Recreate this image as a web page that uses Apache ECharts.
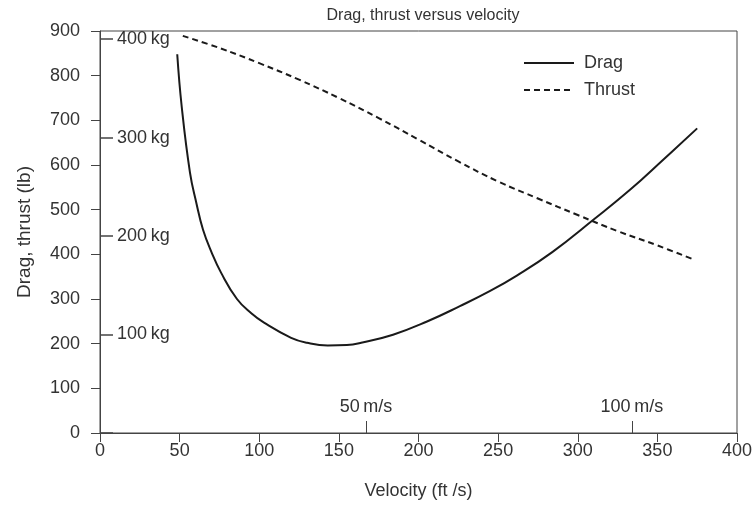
<!DOCTYPE html>
<html><head><meta charset="utf-8">
<script src="https://cdn.jsdelivr.net/npm/echarts@6/dist/echarts.min.js"></script>
<style>html,body{margin:0;padding:0;background:#fff}#c{width:756px;height:506px}</style>
</head><body><div id="c"></div>
<script>
// Drag (lb) versus velocity (ft/s)
const dragVelocity = [48.5,51.3,56.5,60.5,64.7,70,76,86,95,103,120,130,143,155,164,184,205,226,245,262,284,310,333,354,375];
const dragValues   = [848,731,583,515,455,405,359,300,268,247,213,202,196,197,202,220,249,284,318,353,405,478,545,613,682];
// Thrust (lb) versus velocity (ft/s)
const thrustVelocity = [52,75,100,125,150,175,200,225,250,275,300,325,350,373];
const thrustValues   = [889,862,828,791,750,705,657,608,563,525,488,452,420,388];
// Secondary scales
const kgTicks = [0,100,200,300,400];
const msTicks = [50,100];
const LB_PER_KG = 2.2046;
const FTS_PER_MS = 3.34;

const font = 'Liberation Sans';
const ink = '#333';
const chart = echarts.init(document.getElementById('c'), null, {renderer:'canvas'});
chart.setOption({
  backgroundColor:'#fff',
  animation:false,
  textStyle:{fontFamily:font},
  title:{text:'Drag, thrust versus velocity', left:418, top:3, textAlign:'center',
    textStyle:{fontSize:16, fontWeight:'normal', color:ink, fontFamily:font}},
  legend:{orient:'vertical', left:518, top:49, itemWidth:50, itemHeight:14, itemGap:9,
    itemStyle:{opacity:0},
    textStyle:{fontSize:18, color:ink, fontFamily:font, padding:[0,0,0,5]},
    data:['Drag','Thrust']},
  grid:{left:100, right:19, top:31, bottom:73, show:true, borderColor:'#444', borderWidth:1, containLabel:false},
  xAxis:[
    {type:'value', min:0, max:400, interval:50, position:'bottom',
     name:'Velocity (ft /s)', nameLocation:'middle', nameGap:49,
     nameTextStyle:{fontSize:18, color:ink, fontFamily:font},
     axisLine:{lineStyle:{color:'#444', width:1}},
     axisTick:{length:9, lineStyle:{color:'#444'}},
     axisLabel:{fontSize:18, color:ink, margin:9, fontFamily:font},
     splitLine:{show:false}},
    {type:'value', min:0, max:400/FTS_PER_MS, position:'bottom',
     axisLine:{show:false},
     axisTick:{inside:true, length:12, customValues:msTicks, lineStyle:{color:'#444'}},
     axisLabel:{inside:true, margin:17, customValues:msTicks, fontSize:18, color:ink, fontFamily:font,
       formatter:v=>v+'\u2009m/s'},
     splitLine:{show:false}}
  ],
  yAxis:[
    {type:'value', min:0, max:900, interval:100, position:'left',
     name:'Drag, thrust (lb)', nameLocation:'middle', nameGap:66,
     nameTextStyle:{fontSize:19, color:ink, fontFamily:font},
     axisLine:{show:true, lineStyle:{color:'#444', width:1}},
     axisTick:{show:true, length:9, lineStyle:{color:'#444'}},
     axisLabel:{fontSize:18, color:ink, margin:20, fontFamily:font},
     splitLine:{show:false}},
    {type:'value', min:0, max:900/LB_PER_KG, position:'left',
     axisLine:{show:false},
     axisTick:{show:true, inside:true, length:13, customValues:kgTicks, lineStyle:{color:'#444', width:1.5}},
     axisLabel:{inside:true, margin:17, customValues:kgTicks.filter(v=>v>0), fontSize:18, color:ink, fontFamily:font,
       formatter:v=>v+'\u2009kg'},
     splitLine:{show:false}}
  ],
  series:[
    {name:'Drag', type:'line', xAxisIndex:0, yAxisIndex:0, symbol:'none', smooth:0.45,
     lineStyle:{color:'#1a1a1a', width:2},
     itemStyle:{color:'#1a1a1a'},
     data:dragVelocity.map((v,i)=>[v,dragValues[i]])},
    {name:'Thrust', type:'line', xAxisIndex:0, yAxisIndex:0, symbol:'none', smooth:0.4,
     lineStyle:{color:'#1a1a1a', width:2, type:[6,4]},
     itemStyle:{color:'#1a1a1a'},
     data:thrustVelocity.map((v,i)=>[v,thrustValues[i]])}
  ]
});
</script></body></html>
